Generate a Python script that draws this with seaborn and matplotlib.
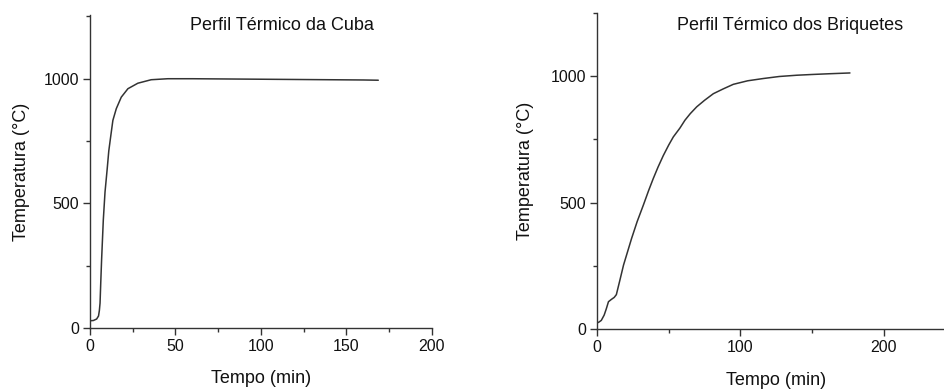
import pandas as pd
import matplotlib.pyplot as plt
import seaborn as sns
from matplotlib.ticker import MultipleLocator

# Perfil termico da cuba
cuba_tempo = [0, 2, 3.9, 5.0, 5.5, 5.9, 6.3, 6.8, 7.8, 8.8, 10.1, 11, 12.1, 13.4, 15.4,
              18.3, 22.2, 28, 35.8, 45.5, 60, 80, 100, 120, 140, 160, 168.6]
cuba_temp = [29, 30, 36, 48, 70, 100, 180, 273, 433, 545, 640, 710, 767, 833, 880,
             926, 960, 982, 996, 1000, 1000, 999, 998, 997, 996, 995, 994]

# Perfil termico dos briquetes
briq_tempo = [0, 1, 3, 5, 6.5, 8, 10, 12, 13.5, 16, 18.5, 24.1, 28, 32.3, 36, 39.2, 42.5,
              46.2, 50, 53.2, 57.8, 61.3, 65, 69.5, 75, 81.1, 88, 95, 105, 115.9, 127,
              139.2, 150, 162.4, 176.3]
briq_temp = [25, 26, 34, 55, 80, 108, 117, 125, 136, 194, 253, 358, 425, 490, 548, 595, 640,
             686, 728, 760, 795, 826, 852, 879, 905, 931, 950, 968, 982, 991, 999,
             1004, 1007, 1010, 1013]

df_cuba = pd.DataFrame({'Tempo': cuba_tempo, 'Temperatura': cuba_temp})
df_briq = pd.DataFrame({'Tempo': briq_tempo, 'Temperatura': briq_temp})

sns.set_style('ticks')
plt.rcParams['font.family'] = ['Liberation Sans', 'DejaVu Sans']
plt.rcParams['axes.edgecolor'] = '#333333'
plt.rcParams['xtick.color'] = '#333333'
plt.rcParams['ytick.color'] = '#333333'
plt.rcParams['xtick.labelcolor'] = '#111111'
plt.rcParams['ytick.labelcolor'] = '#111111'

fig = plt.figure(figsize=(9.44, 3.92), dpi=100)
ax1 = fig.add_axes([0.0953, 0.1633, 0.3623, 0.798])
ax2 = fig.add_axes([0.6324, 0.1607, 0.38, 0.806])


def style_ax(ax, xmax, ymax, xmajor, title, tx, ty):
    ax.set_xlim(0, xmax)
    ax.set_ylim(0, ymax)
    ax.xaxis.set_major_locator(MultipleLocator(xmajor))
    ax.xaxis.set_minor_locator(MultipleLocator(xmajor / 2))
    ax.yaxis.set_major_locator(MultipleLocator(500))
    ax.yaxis.set_minor_locator(MultipleLocator(250))
    ax.tick_params(which='major', length=5, width=1, labelsize=11.5, pad=3)
    ax.tick_params(which='minor', length=3, width=1)
    for s in ['top', 'right']:
        ax.spines[s].set_visible(False)
    for s in ['left', 'bottom']:
        ax.spines[s].set_linewidth(1)
    ax.set_xlabel('Tempo (min)', fontsize=13, color='#111111')
    ax.set_ylabel('Temperatura (°C)', fontsize=13, color='#111111')
    ax.xaxis.set_label_coords(0.5, -0.135)
    ax.yaxis.set_label_coords(-0.176, 0.5)
    ax.text(tx, ty, title, transform=ax.transAxes, ha='center', va='center',
            fontsize=13, color='#111111')


sns.lineplot(data=df_cuba, x='Tempo', y='Temperatura', ax=ax1, color='#333333', linewidth=1.1)
sns.lineplot(data=df_briq, x='Tempo', y='Temperatura', ax=ax2, color='#333333', linewidth=1.1)

style_ax(ax1, 200, 1255, 50, 'Perfil Térmico da Cuba', 0.561, 0.968)
style_ax(ax2, 250, 1250, 100, 'Perfil Térmico dos Briquetes', 0.538, 0.962)

fig.savefig('out.png', dpi=100)
